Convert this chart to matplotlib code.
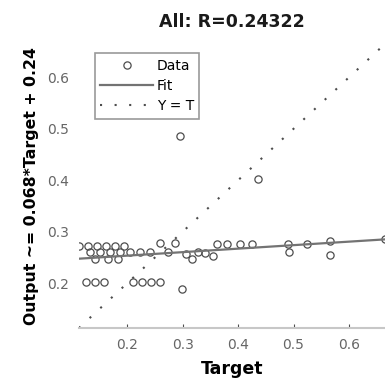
import matplotlib
matplotlib.use("Agg")
import matplotlib.pyplot as plt
import numpy as np

plt.rcParams['font.family'] = ['DejaVu Sans']

# regression results over all samples
targets = [0.113, 0.130, 0.146, 0.162, 0.178, 0.195,
           0.133, 0.151, 0.169, 0.187, 0.205, 0.223,
           0.142, 0.166, 0.184,
           0.126, 0.142, 0.159, 0.211, 0.227, 0.243, 0.259,
           0.259, 0.286, 0.306, 0.317, 0.328, 0.241, 0.274,
           0.299, 0.295, 0.436,
           0.362, 0.380, 0.404, 0.425, 0.341, 0.355,
           0.492, 0.490, 0.524, 0.566, 0.566, 0.665]
outputs = [0.273, 0.273, 0.273, 0.273, 0.273, 0.273,
           0.260, 0.260, 0.260, 0.260, 0.260, 0.260,
           0.248, 0.248, 0.248,
           0.202, 0.202, 0.202, 0.202, 0.202, 0.202, 0.202,
           0.279, 0.279, 0.256, 0.248, 0.260, 0.260, 0.260,
           0.188, 0.486, 0.403,
           0.277, 0.277, 0.277, 0.277, 0.258, 0.252,
           0.260, 0.277, 0.277, 0.283, 0.254, 0.286]
slope = 0.068
offset = 0.24
r_value = 0.24322
ticks = [0.2, 0.3, 0.4, 0.5, 0.6]
tick_labels = ['0.2', '0.3', '0.4', '0.5', '0.6']

t = np.array(targets)
y = np.array(outputs)
lo = min(t.min(), y.min())
hi = max(t.max(), y.max())

fig = plt.figure(figsize=(3.85, 3.85), dpi=100)
ax = fig.add_axes([0.205, 0.148, 0.795, 0.738])

ax.plot(t, y, 'o', mfc='none', mec='0.3', ms=5.2, mew=0.9, label='Data')
xs = np.array([lo, hi])
ax.plot(xs, slope * xs + offset, color='0.45', lw=1.6, label='Fit')
ax.plot(xs, xs, color='0.3', lw=1.5, ls=(0, (1, 6)), label='Y = T')

ax.set_xlim(lo, hi)
ax.set_ylim(lo, hi)
ax.set_xticks(ticks)
ax.set_yticks(ticks)
ax.set_xticklabels(tick_labels)
ax.set_yticklabels(tick_labels)
ax.tick_params(axis='x', direction='in', length=3, color='0.3', pad=7,
               labelsize=10, labelcolor='0.4')
ax.tick_params(axis='y', length=0, pad=7, labelsize=10, labelcolor='0.4')
for side in ['top', 'right', 'left']:
    ax.spines[side].set_visible(False)
ax.spines['bottom'].set_color('0.78')
ax.spines['bottom'].set_linewidth(1.5)

ax.set_title('All: R=%.5f' % r_value, fontsize=12.5, fontweight='bold',
             color='0.1', pad=12)
ax.set_xlabel('Target', fontsize=12.5, fontweight='bold', labelpad=6)
ax.set_ylabel('Output ~= %.3g*Target + %.2g' % (slope, offset),
              fontsize=11.3, fontweight='bold', labelpad=6)

leg = ax.legend(loc='upper left', bbox_to_anchor=(0.052, 0.968), fontsize=10,
                frameon=True, fancybox=False, handlelength=3.8,
                handletextpad=0.25, borderpad=0.4, borderaxespad=0,
                labelspacing=0.45)
leg.get_frame().set_edgecolor('0.5')
leg.get_frame().set_linewidth(1.2)

fig.savefig('out.png', dpi=100)
